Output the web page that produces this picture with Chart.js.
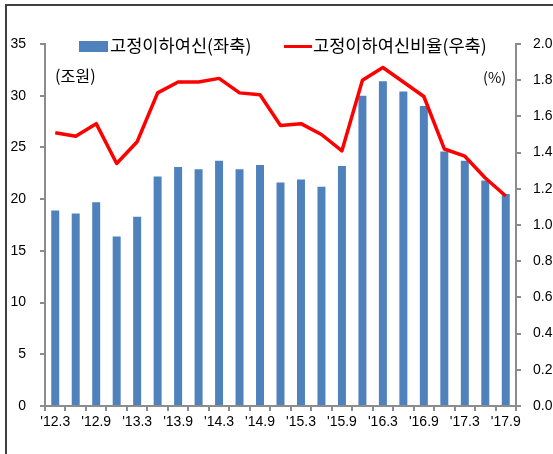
<!DOCTYPE html>
<html>
<head>
<meta charset="utf-8">
<script src="https://cdn.jsdelivr.net/npm/chart.js@4/dist/chart.umd.min.js"></script>
<style>
  html, body { margin: 0; padding: 0; background: #fff; overflow: hidden; }
  #wrap { position: relative; width: 553px; height: 454px; overflow: hidden; }
  #frame { position: absolute; left: 5px; top: 4px; width: 700px; height: 600px;
           border-left: 2px solid #404040; border-top: 2px solid #404040; }
  canvas { position: absolute; left: 0; top: 0; }
  .txt { position: absolute; color: #000; white-space: nowrap;
         font-family: "Noto Sans CJK KR", sans-serif; line-height: 1; }
  .box { position: absolute; background: #4F81BD; }
  .ln { position: absolute; background: #FF0000; }
</style>
</head>
<body>
<div id="wrap">
  <div id="frame"></div>
  <canvas id="chart" width="553" height="454"></canvas>
  <div class="box" style="left:79px; top:41px; width:29px; height:11px;"></div>
  <div class="txt" style="left:110px; top:36px; font-size:17.6px;">고정이하여신(좌축)</div>
  <div class="ln" style="left:284px; top:45px; width:28px; height:3px;"></div>
  <div class="txt" style="left:313px; top:36px; font-size:17.6px;">고정이하여신비율(우축)</div>
  <div class="txt" style="left:55px; top:67px; font-size:16.2px;">(조원)</div>
  <div class="txt" style="left:483px; top:70px; font-size:14.5px;">(%)</div>
</div>
<script>
// quarterly, '12.3 ~ '17.9
const quarters = ["'12.3", "'12.6", "'12.9", "'12.12", "'13.3", "'13.6", "'13.9", "'13.12",
                  "'14.3", "'14.6", "'14.9", "'14.12", "'15.3", "'15.6", "'15.9", "'15.12",
                  "'16.3", "'16.6", "'16.9", "'16.12", "'17.3", "'17.6", "'17.9"];
// 고정이하여신 (조원, left axis)
const npl = [18.9, 18.6, 19.7, 16.4, 18.3, 22.2, 23.1, 22.9, 23.7, 22.9, 23.3, 21.6,
             21.9, 21.2, 23.2, 30.0, 31.4, 30.4, 29.0, 24.6, 23.7, 21.8, 20.5];
// 고정이하여신비율 (%, right axis)
const nplRatio = [1.51, 1.49, 1.56, 1.34, 1.46, 1.73, 1.79, 1.79, 1.81, 1.73, 1.72, 1.55,
                  1.56, 1.50, 1.41, 1.80, 1.87, 1.79, 1.71, 1.42, 1.38, 1.26, 1.16];

const axisGray = '#8C8C8C';
const numFont = { family: 'Liberation Sans', size: 14 };

new Chart(document.getElementById('chart'), {
    data: {
        labels: quarters,
        datasets: [{
            type: 'line',
            label: '고정이하여신비율(우축)',
            data: nplRatio,
            yAxisID: 'y1',
            borderColor: '#FF0000',
            borderWidth: 3.5,
            pointRadius: 0,
            tension: 0,
            borderJoinStyle: 'round',
            fill: false
        }, {
            type: 'bar',
            label: '고정이하여신(좌축)',
            data: npl,
            yAxisID: 'y',
            backgroundColor: '#4F81BD',
            barPercentage: 0.39,
            categoryPercentage: 1.0
        }]
    },
    options: {
        responsive: false,
        animation: false,
        devicePixelRatio: 1,
        layout: { padding: { top: 44, left: 0, right: 0, bottom: 0 } },
        plugins: { legend: { display: false }, tooltip: { enabled: false } },
        scales: {
            x: {
                grid: { offset: true, drawOnChartArea: false, tickLength: 5, color: axisGray, lineWidth: 2 },
                border: { color: axisGray, width: 2 },
                ticks: {
                    autoSkip: false, maxRotation: 0, color: '#000', font: numFont, padding: 3,
                    callback: (v, i) => i % 2 === 0 ? quarters[i] : ''
                },
                afterFit: s => { s.height = 48; }
            },
            y: {
                position: 'left',
                min: 0, max: 35,
                grid: { drawOnChartArea: false, tickLength: 5, color: axisGray, lineWidth: 2 },
                border: { color: axisGray, width: 2 },
                ticks: { stepSize: 5, color: '#000', font: numFont, padding: 14 },
                afterFit: s => { s.width = 45; }
            },
            y1: {
                position: 'right',
                min: 0, max: 2,
                grid: { drawOnChartArea: false, tickLength: 5, color: axisGray, lineWidth: 2 },
                border: { color: axisGray, width: 2 },
                ticks: { stepSize: 0.2, color: '#000', font: numFont, padding: 12,
                         callback: v => v.toFixed(1) },
                afterFit: s => { s.width = 37; }
            }
        }
    }
});
</script>
</body>
</html>
